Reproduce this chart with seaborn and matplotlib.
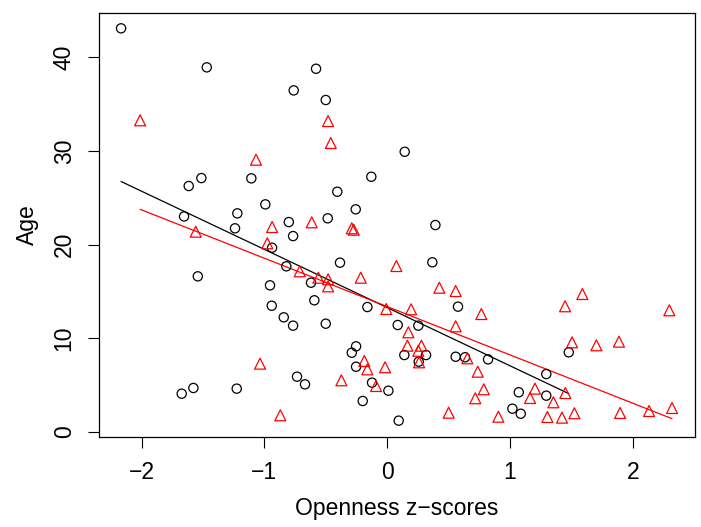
import numpy as np
import pandas as pd
import matplotlib
matplotlib.use("Agg")
import matplotlib.pyplot as plt
import seaborn as sns

# Group 1 (black circles)
circ_x = [-2.167, -1.469, -0.761, -1.513, -1.616, -1.106, -0.992, -1.220, -1.654, -0.801,
          -1.239, -0.579, -0.500, 0.143, -0.129, -0.406, -0.256, -0.484, 0.393, -0.766,
          -0.937, -0.821, -1.542, -0.954, -0.940, -0.842, -0.766, -0.734, -1.578, -1.673,
          -1.225, -0.384, 0.368, -0.620, -0.593, -0.161, 0.577, -0.500, 0.086, 0.254,
          -0.253, -0.288, 0.140, 0.317, 0.558, 0.634, 0.822, 0.257, -0.253, -0.669,
          -0.123, 0.010, -0.199, 0.094, 1.479, 1.296, 1.072, 1.296, 1.020, 1.088]
circ_y = [43.10, 38.93, 36.47, 27.10, 26.25, 27.07, 24.29, 23.33, 23.00, 22.40,
          21.73, 38.78, 35.44, 29.91, 27.24, 25.64, 23.76, 22.80, 22.08, 20.90,
          19.66, 17.67, 16.60, 15.64, 13.46, 12.22, 11.33, 5.88, 4.67, 4.06,
          4.60, 18.06, 18.10, 15.92, 14.04, 13.32, 13.36, 11.54, 11.40, 11.33,
          9.12, 8.44, 8.19, 8.19, 8.01, 7.95, 7.73, 7.48, 6.94, 5.06,
          5.24, 4.38, 3.28, 1.18, 8.48, 6.16, 4.21, 3.85, 2.46, 1.92]

# Group 2 (red triangles)
tri_x = [-2.012, -1.068, -0.937, -0.481, -0.459, -0.614, -0.288, -0.272, -1.559, -0.976,
         -1.035, -0.870, 0.075, -0.712, -0.215, -0.560, -0.481, -0.481, 0.425, 0.558,
         -0.007, 0.195, 0.767, 0.558, 0.173, 0.165, 0.279, 0.254, 0.653, -0.186,
         -0.161, -0.017, 0.260, -0.373, -0.090, 0.738, 0.787, 0.718, 0.501, 1.590,
         1.449, 2.298, 1.506, 1.704, 1.888, 1.204, 1.164, 1.451, 1.354, 0.906,
         1.305, 1.424, 1.525, 1.897, 2.133, 2.320]
tri_y = [33.27, 29.06, 21.87, 33.19, 30.84, 22.37, 21.73, 21.58, 21.37, 20.13,
         7.27, 1.75, 17.70, 17.14, 16.45, 16.45, 16.28, 15.53, 15.38, 15.03,
         13.11, 13.08, 12.57, 11.26, 10.62, 9.19, 9.19, 8.65, 7.84, 7.55,
         6.66, 6.88, 7.41, 5.49, 4.88, 6.41, 4.53, 3.57, 2.03, 14.71,
         13.40, 12.97, 9.55, 9.23, 9.62, 4.60, 3.60, 4.13, 3.14, 1.60,
         1.57, 1.50, 1.97, 2.00, 2.21, 2.53]

x_ticks = [-2, -1, 0, 1, 2]
y_ticks = [0, 10, 20, 30, 40]
x_label = "Openness z\u2212scores"
y_label = "Age"

df1 = pd.DataFrame({"x": circ_x, "y": circ_y})
df2 = pd.DataFrame({"x": tri_x, "y": tri_y})

sns.set_style("white")
plt.rcParams['font.family'] = ['Liberation Sans', 'DejaVu Sans']
plt.rcParams['text.color'] = 'black'
plt.rcParams['axes.labelcolor'] = 'black'

fig = plt.figure(figsize=(7.01, 5.27), dpi=100)
ax = fig.add_axes([0.1417, 0.1708, 0.8497, 0.8051])

sns.scatterplot(data=df1, x="x", y="y", marker="o", s=44, facecolors="none",
                edgecolor="black", linewidth=0.9, ax=ax, zorder=3)
sns.scatterplot(data=df2, x="x", y="y", marker="^", s=62, facecolors="none",
                edgecolor="#FF0000", linewidth=0.9, ax=ax, zorder=3)

sns.regplot(data=df1, x="x", y="y", scatter=False, ci=None, truncate=True,
            color="black", line_kws={"lw": 0.9}, ax=ax)
sns.regplot(data=df2, x="x", y="y", scatter=False, ci=None, truncate=True,
            color="#FF0000", line_kws={"lw": 0.9}, ax=ax)

ax.set_xlim(-2.344, 2.507)
ax.set_ylim(-0.566, 44.77)
ax.set_xticks(x_ticks)
ax.set_xticklabels([str(t).replace("-", "\u2212") for t in x_ticks])
ax.set_yticks(y_ticks)
ax.set_yticklabels([str(t) for t in y_ticks], rotation=90, va="center")

ax.tick_params(direction="out", length=8, width=0.8, labelsize=16.5, pad=9,
               color="black", labelcolor="black", bottom=True, left=True)
for sp in ax.spines.values():
    sp.set_color("black")
    sp.set_linewidth(0.9)

ax.set_xlabel(x_label, fontsize=16.5, labelpad=10, color="black")
ax.set_ylabel(y_label, fontsize=16.5, labelpad=10, color="black")

fig.savefig("out.png", dpi=100)
